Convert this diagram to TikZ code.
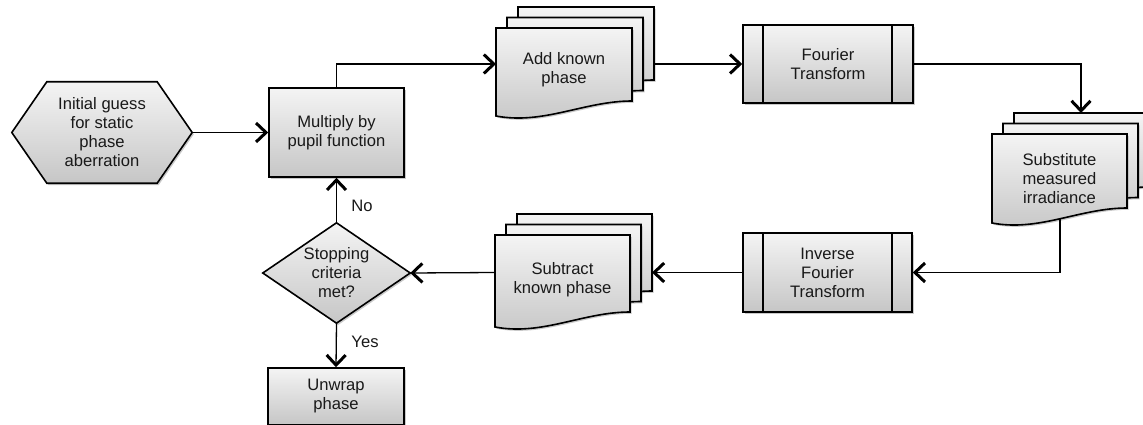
\documentclass[tikz,border=0pt]{standalone}
\usepackage{fontspec}
\setmainfont{Liberation Sans}
\usetikzlibrary{arrows.meta,shadows,backgrounds}
\definecolor{topc}{RGB}{244,244,244}
\definecolor{botc}{RGB}{198,198,198}
\definecolor{txt}{RGB}{25,25,25}
\tikzset{
  shapefill/.style={draw=black, line width=1.6pt, top color=topc, bottom color=botc,
    drop shadow={shadow xshift=1.6pt, shadow yshift=-1.8pt, opacity=0.3, fill=black!70}},
  lbl/.style={font=\fontsize{16.6}{19}\selectfont, text=txt, align=center, inner sep=0pt},
  box/.style={shapefill, lbl},
  frame/.style={lbl},
  conn/.style={line width=1.3pt, -{Straight Barb[length=10pt,width=19pt,line width=3pt]}},
  barline/.style={line width=1.6pt},
}
\newcommand\docshape[4]{%
  \filldraw[shapefill] (#1,#2) -- (#3,#2) -- (#3,{#4-15})
    .. controls ({#1+0.65*(#3-#1)},{#4-15}) and ({#1+0.35*(#3-#1)},{#4+9}) .. (#1,#4) -- cycle;}
\begin{document}
\begin{tikzpicture}[x=1pt,y=-1pt]
\useasboundingbox (0,0) rectangle (1143,425);

% hexagon
\node[frame, minimum width=180pt, minimum height=101pt] (init) at (102,132.5)
  {Initial guess\\for static\\phase\\aberration};
\begin{scope}[on background layer]
\filldraw[shapefill] (init.west) -- ([xshift=35pt]init.north west) -- ([xshift=-35pt]init.north east)
  -- (init.east) -- ([xshift=-35pt]init.south east) -- ([xshift=35pt]init.south west) -- cycle;
\end{scope}

% process boxes
\node[box, minimum width=135pt, minimum height=89pt] (mult) at (336.5,132.5) {Multiply by\\pupil function};
\node[box, minimum width=136pt, minimum height=57pt] (unwrap) at (336,396.5) {Unwrap\\phase};

\node[box, minimum width=170pt, minimum height=78pt] (ft) at (828,64) {Fourier\\Transform};
\draw[barline] ([xshift=21pt]ft.north west) -- ([xshift=21pt]ft.south west);
\draw[barline] ([xshift=-22pt]ft.north east) -- ([xshift=-22pt]ft.south east);

\node[box, minimum width=169pt, minimum height=79pt] (ift) at (827.5,272.5) {Inverse\\Fourier\\Transform};
\draw[barline] ([xshift=21pt]ift.north west) -- ([xshift=21pt]ift.south west);
\draw[barline] ([xshift=-21pt]ift.north east) -- ([xshift=-21pt]ift.south east);

% decision diamond
\node[frame, minimum width=147pt, minimum height=100pt] (dia) at (336.5,273) {Stopping\\criteria\\met?};
\begin{scope}[on background layer]
\filldraw[shapefill] (dia.west) -- (dia.north) -- (dia.east) -- (dia.south) -- cycle;
\end{scope}

% multi-document stacks
\docshape{518}{7}{654}{95}
\docshape{507}{17.5}{643}{105.5}
\docshape{496}{28}{632}{116}
\node[lbl] (add) at (564,70) {Add known\\phase};

\docshape{1014}{113}{1149}{202}
\docshape{1003}{123.5}{1138}{212.5}
\docshape{992}{134}{1127}{223}
\node[lbl] (subst) at (1059.5,179) {Substitute\\measured\\irradiance};

\docshape{517}{214}{652}{306}
\docshape{506}{224.5}{641}{316.5}
\docshape{495}{235}{630}{327}
\node[lbl] (subtr) at (562.5,280) {Subtract\\known phase};

% connector end points on the stacks
\coordinate (addin) at (496,64);
\coordinate (addout) at (654,64);
\coordinate (subin) at (1081,113);
\coordinate (subout) at (1060,218);
\coordinate (subtrin) at (652,272.5);
\coordinate (subtrout) at (495,272.5);

% connectors
\draw[conn] (init.east) -- (mult.west);
\draw[conn] (mult.north) |- (addin);
\draw[conn] (addout) -- (ft.west);
\draw[conn] (ft.east) -| (subin);
\draw[conn] (subout) |- (ift.east);
\draw[conn] (ift.west) -- (subtrin);
\draw[conn] (subtrout) -- (dia.east);
\draw[conn] (dia.north) -- (mult.south);
\draw[conn] (dia.south) -- (unwrap.north);

\node[lbl] (nolbl) at (362,206) {No};
\node[lbl] (yeslbl) at (365,342) {Yes};
\end{tikzpicture}
\end{document}
